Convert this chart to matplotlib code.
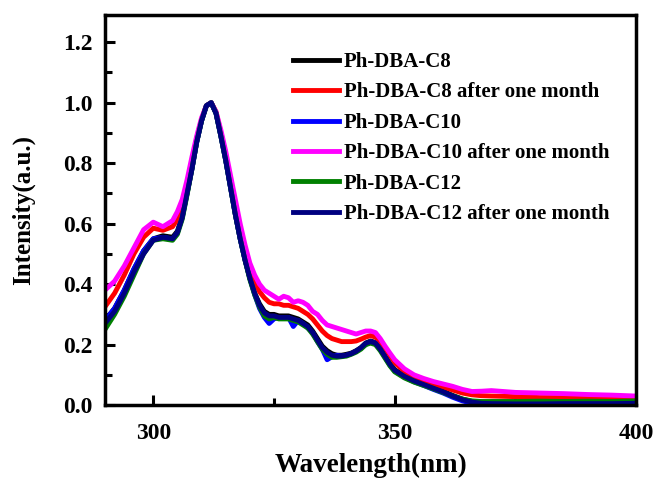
import numpy as np
import matplotlib
matplotlib.use("Agg")
import matplotlib.pyplot as plt
from matplotlib.ticker import MultipleLocator, FormatStrFormatter

plt.rcParams['font.family'] = ['Liberation Serif', 'DejaVu Serif']
plt.rcParams['font.weight'] = 'bold'

# wavelength grid (nm)
wavelength = [290, 292, 294, 296, 298, 300, 302,
              304, 305, 306, 307, 308, 309, 310, 311, 312, 313, 314, 315, 316, 317, 318, 319,
              320, 321, 322, 323, 324, 325, 326, 327, 328, 329, 330, 331, 332, 333, 334, 335,
              336, 337, 338, 339, 340, 341, 342, 343, 344, 345, 346, 347, 348, 349, 350,
              352, 354, 356, 358, 360, 362, 364, 366, 368, 370,
              375, 380, 385, 390, 395, 400]

c8 = [0.28, 0.32, 0.38, 0.45, 0.51, 0.55, 0.56,
      0.555, 0.575, 0.625, 0.70, 0.78, 0.87, 0.94, 0.99, 1.00, 0.965, 0.89, 0.81, 0.72, 0.63, 0.55, 0.48,
      0.42, 0.37, 0.335, 0.31, 0.30, 0.30, 0.295, 0.295, 0.295, 0.29, 0.285, 0.275, 0.265, 0.245, 0.22, 0.195,
      0.18, 0.17, 0.165, 0.165, 0.168, 0.172, 0.18, 0.19, 0.205, 0.212, 0.207, 0.187, 0.162, 0.137, 0.117,
      0.097, 0.082, 0.07, 0.058, 0.046, 0.032, 0.02, 0.012, 0.008, 0.007,
      0.006, 0.006, 0.007, 0.006, 0.007, 0.008]

c8_month = [0.325, 0.37, 0.43, 0.50, 0.555, 0.585, 0.578,
            0.59, 0.615, 0.66, 0.73, 0.80, 0.88, 0.945, 0.99, 1.00, 0.97, 0.90, 0.83, 0.74, 0.66, 0.58, 0.51,
            0.45, 0.41, 0.375, 0.355, 0.34, 0.335, 0.335, 0.33, 0.33, 0.325, 0.32, 0.31, 0.30, 0.285, 0.265, 0.245,
            0.23, 0.22, 0.215, 0.21, 0.21, 0.21, 0.212, 0.218, 0.225, 0.23, 0.225, 0.21, 0.19, 0.165, 0.14,
            0.112, 0.092, 0.08, 0.07, 0.06, 0.05, 0.04, 0.034, 0.031, 0.03,
            0.028, 0.025, 0.025, 0.022, 0.02, 0.02]

c10 = [0.28, 0.32, 0.38, 0.45, 0.51, 0.55, 0.555,
       0.55, 0.57, 0.62, 0.70, 0.78, 0.87, 0.94, 0.99, 1.00, 0.965, 0.89, 0.81, 0.72, 0.63, 0.55, 0.48,
       0.42, 0.365, 0.32, 0.29, 0.27, 0.285, 0.29, 0.29, 0.29, 0.26, 0.28, 0.27, 0.255, 0.24, 0.21, 0.185,
       0.15, 0.16, 0.165, 0.162, 0.165, 0.17, 0.178, 0.188, 0.2, 0.21, 0.205, 0.185, 0.158, 0.132, 0.112,
       0.092, 0.077, 0.065, 0.052, 0.04, 0.026, 0.014, 0.006, 0.004, 0.01,
       0.01, 0.008, 0.012, 0.01, 0.008, 0.01]

c10_month = [0.38, 0.41, 0.46, 0.52, 0.58, 0.605, 0.59,
             0.61, 0.64, 0.68, 0.745, 0.82, 0.89, 0.95, 0.99, 1.00, 0.97, 0.91, 0.84, 0.76, 0.68, 0.60, 0.53,
             0.47, 0.43, 0.40, 0.38, 0.37, 0.36, 0.35, 0.36, 0.355, 0.34, 0.345, 0.34, 0.33, 0.31, 0.30, 0.28,
             0.265, 0.26, 0.255, 0.25, 0.245, 0.24, 0.235, 0.24, 0.245, 0.245, 0.24, 0.22, 0.195, 0.172, 0.15,
             0.12, 0.10, 0.088, 0.078, 0.07, 0.062, 0.052, 0.045, 0.046, 0.048,
             0.042, 0.04, 0.038, 0.035, 0.033, 0.03]

c12 = [0.25, 0.30, 0.36, 0.43, 0.50, 0.545, 0.55,
       0.545, 0.565, 0.615, 0.695, 0.78, 0.87, 0.94, 0.99, 1.00, 0.965, 0.89, 0.81, 0.72, 0.63, 0.55, 0.48,
       0.415, 0.365, 0.325, 0.295, 0.285, 0.29, 0.285, 0.285, 0.285, 0.28, 0.275, 0.265, 0.255, 0.235, 0.21, 0.185,
       0.168, 0.158, 0.158, 0.16, 0.162, 0.168, 0.175, 0.185, 0.2, 0.205, 0.2, 0.18, 0.155, 0.13, 0.11,
       0.09, 0.076, 0.065, 0.054, 0.042, 0.03, 0.02, 0.014, 0.012, 0.012,
       0.012, 0.013, 0.012, 0.013, 0.012, 0.014]

c12_month = [0.27, 0.31, 0.37, 0.44, 0.50, 0.545, 0.555,
             0.55, 0.57, 0.62, 0.70, 0.78, 0.87, 0.94, 0.99, 1.00, 0.965, 0.89, 0.81, 0.72, 0.63, 0.55, 0.48,
             0.42, 0.37, 0.33, 0.305, 0.295, 0.295, 0.29, 0.29, 0.29, 0.285, 0.28, 0.27, 0.26, 0.24, 0.215, 0.19,
             0.175, 0.165, 0.162, 0.162, 0.165, 0.17, 0.178, 0.19, 0.205, 0.21, 0.205, 0.185, 0.16, 0.135, 0.115,
             0.095, 0.08, 0.068, 0.056, 0.044, 0.03, 0.018, 0.01, 0.006, 0.005,
             0.004, 0.004, 0.005, 0.005, 0.005, 0.006]

labels = ["Ph-DBA-C8", "Ph-DBA-C8 after one month", "Ph-DBA-C10",
          "Ph-DBA-C10 after one month", "Ph-DBA-C12", "Ph-DBA-C12 after one month"]
colors = ["black", "red", "blue", "magenta", "green", "navy"]
series = [c8, c8_month, c10, c10_month, c12, c12_month]

fig = plt.figure(figsize=(6.6, 4.84), dpi=100)
ax = fig.add_axes([0.159, 0.163, 0.805, 0.806])

for y, c, lab in zip(series, colors, labels):
    ax.plot(wavelength, y, color=c, lw=3.5, label=lab, solid_joinstyle='round')

ax.set_xlim(290, 400)
ax.set_ylim(0, 1.29)
ax.xaxis.set_major_locator(MultipleLocator(50))
ax.xaxis.set_minor_locator(MultipleLocator(25))
ax.yaxis.set_major_locator(MultipleLocator(0.2))
ax.yaxis.set_minor_locator(MultipleLocator(0.1))
ax.tick_params(which='both', direction='in', width=2.2, labelsize=17)
ax.tick_params(axis='x', which='both', pad=13)
ax.tick_params(axis='y', which='both', pad=9)
ax.tick_params(which='major', length=7)
ax.tick_params(which='minor', length=5)
ax.yaxis.set_major_formatter(FormatStrFormatter('%.1f'))
for s in ax.spines.values():
    s.set_linewidth(2.5)

ax.set_xlabel("Wavelength(nm)", fontsize=19.5, fontweight='bold', labelpad=6)
ax.set_ylabel("Intensity(a.u.)", fontsize=18, fontweight='bold', labelpad=20)

ax.legend(loc='upper left', bbox_to_anchor=(293 / 660, 1 - 52 / 484),
          bbox_transform=fig.transFigure, frameon=False,
          handlelength=2.2, handletextpad=0.25, labelspacing=0.5,
          borderpad=0, borderaxespad=0, prop={'weight': 'bold', 'size': 15})

fig.savefig("out.png", dpi=100)
